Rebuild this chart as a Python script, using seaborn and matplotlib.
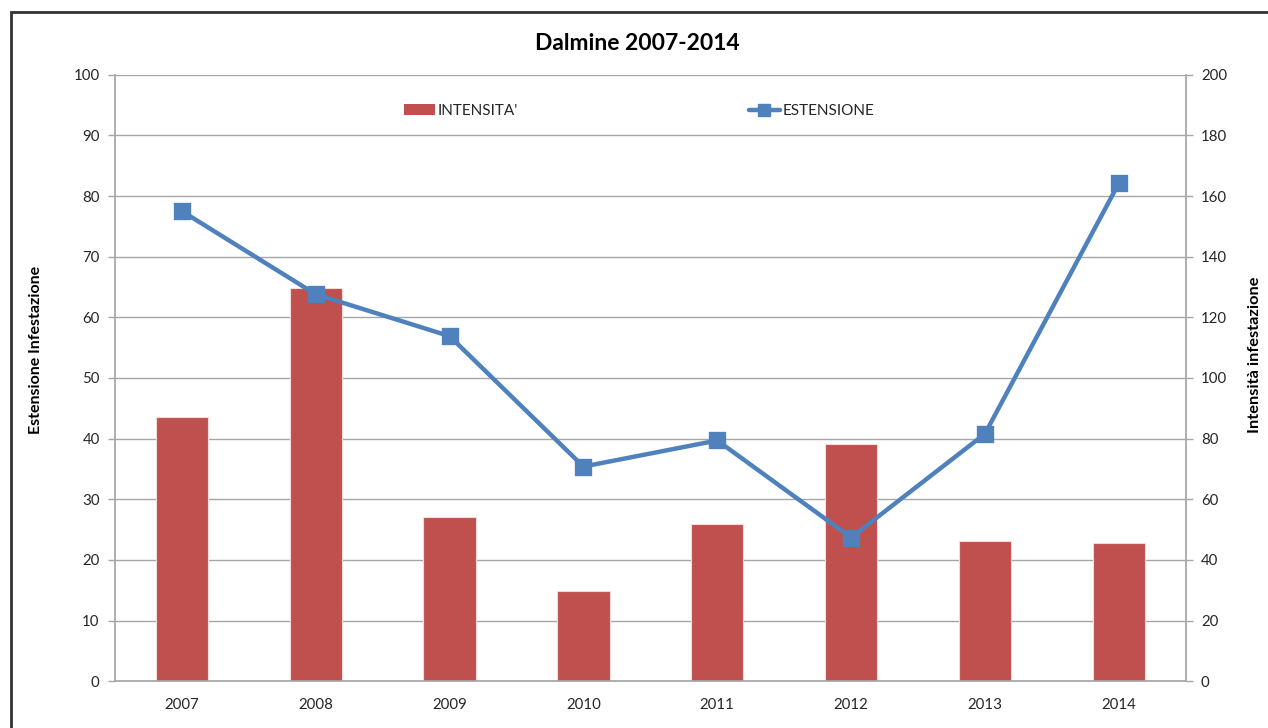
import matplotlib
matplotlib.use("Agg")
import matplotlib.pyplot as plt
from matplotlib.patches import Rectangle
from matplotlib.lines import Line2D
from matplotlib.patches import Patch
import numpy as np
import pandas as pd
import seaborn as sns

# ---- data ----
years = ["2007", "2008", "2009", "2010", "2011", "2012", "2013", "2014"]
intensita = [87.0, 129.7, 54.2, 29.7, 51.8, 78.1, 46.3, 45.5]      # right axis (0-200)
estensione = [77.5, 63.8, 56.9, 35.4, 39.7, 23.7, 40.8, 82.1]      # left axis (0-100)
left_ticks = [0, 10, 20, 30, 40, 50, 60, 70, 80, 90, 100]
right_ticks = [0, 20, 40, 60, 80, 100, 120, 140, 160, 180, 200]
title = "Dalmine 2007-2014"
left_label = "Estensione Infestazione"
right_label = "Intensità infestazione"
bar_name = "INTENSITA'"
line_name = "ESTENSIONE"

sns.set_theme(style="white")
plt.rcParams['font.family'] = ['Lato', 'DejaVu Sans']

BAR_COLOR = "#C0504D"
LINE_COLOR = "#4F81BD"
GRID_COLOR = "#A6A6A6"
TEXT_COLOR = "#262626"

df = pd.DataFrame({"year": years, "intensita": intensita, "estensione": estensione})

W, H = 1268, 728
fig = plt.figure(figsize=(W / 100, H / 100), dpi=100)
fig.patch.set_facecolor("white")

x0, x1 = 115 / W, 1185.7 / W
y0, y1 = 1 - 681.3 / H, 1 - 74.7 / H
ax = fig.add_axes([x0, y0, x1 - x0, y1 - y0])
ax2 = ax.twinx()

# bars on right axis (drawn below), line on left axis (drawn above)
sns.barplot(data=df, x="year", y="intensita", ax=ax2, color=BAR_COLOR,
            width=0.39, saturation=1, edgecolor="#F2DCDB", linewidth=0.8, zorder=3)
sns.pointplot(data=df, x="year", y="estensione", ax=ax, color=LINE_COLOR,
              markers="s", errorbar=None, linewidth=3.2, markersize=10.5, zorder=5)

ax.set_zorder(ax2.get_zorder() + 1)
ax.patch.set_visible(False)

ax.set_ylim(0, 100)
ax2.set_ylim(0, 200)
ax.set_xlim(-0.5, len(years) - 0.5)
ax2.set_xlim(-0.5, len(years) - 0.5)

ax.set_yticks(left_ticks)
ax2.set_yticks(right_ticks)
ax2.yaxis.grid(True, color=GRID_COLOR, linewidth=1.0)
ax2.set_axisbelow(True)
ax.grid(False)
ax2.xaxis.grid(False)

# x ticks: labels at centers, tick marks at category boundaries
ax.set_xticks(range(len(years)))
ax.set_xticklabels(years)
ax.set_xticks(np.arange(-0.5, len(years)), minor=True)
ax.tick_params(axis="x", which="major", length=0, pad=12, labelsize=10.8, labelcolor=TEXT_COLOR)
ax.tick_params(axis="x", which="minor", length=5, width=1, color=GRID_COLOR, direction="out")
ax2.tick_params(axis="x", which="both", bottom=False, labelbottom=False)

ax.tick_params(axis="y", left=True, length=5, width=1, color=GRID_COLOR, direction="out",
               labelsize=10.8, labelcolor=TEXT_COLOR, pad=6)
ax2.tick_params(axis="y", right=True, length=5, width=1, color=GRID_COLOR, direction="out",
                labelsize=10.8, labelcolor=TEXT_COLOR, pad=6)

for a in (ax, ax2):
    a.set_xlabel("")
    a.set_ylabel("")
    for s in a.spines.values():
        s.set_visible(False)
ax.spines["left"].set_visible(True)
ax.spines["left"].set_color(GRID_COLOR)
ax.spines["bottom"].set_visible(True)
ax.spines["bottom"].set_color(GRID_COLOR)
ax2.spines["right"].set_visible(True)
ax2.spines["right"].set_color(GRID_COLOR)

# axis titles
fig.text(36 / W, 1 - 350 / H, left_label, rotation=90, ha="center", va="center",
         fontsize=11.5, fontweight="bold", color="black")
fig.text(1255 / W, 1 - 355 / H, right_label, rotation=90, ha="center", va="center",
         fontsize=11.8, fontweight="bold", color="black")

# title
fig.text(637 / W, 1 - 43 / H, title, ha="center", va="center",
         fontsize=16.5, fontweight="bold", color="black")

# legend
handles = [Patch(facecolor=BAR_COLOR, edgecolor="none", label=bar_name),
           Line2D([0], [0], color=LINE_COLOR, lw=3.2, marker="s", markersize=9, label=line_name)]
leg = ax.legend(handles=handles, loc="center",
                bbox_to_anchor=((404 - 115 + 235.5) / (1185.7 - 115), (681.3 - 111) / (681.3 - 74.7)),
                ncol=2, frameon=False, fontsize=11, columnspacing=15.1, handlelength=2.0,
                handletextpad=0.2, labelcolor=TEXT_COLOR)

# outer chart frame (extends beyond right/bottom edge of image)
fig.add_artist(Rectangle((10.5 / W, -0.2), 1.2, 1.2 - 11.5 / H, transform=fig.transFigure,
                         fill=False, edgecolor="#333333", linewidth=2, clip_on=False))

fig.savefig("out.png", dpi=100, facecolor="white")
